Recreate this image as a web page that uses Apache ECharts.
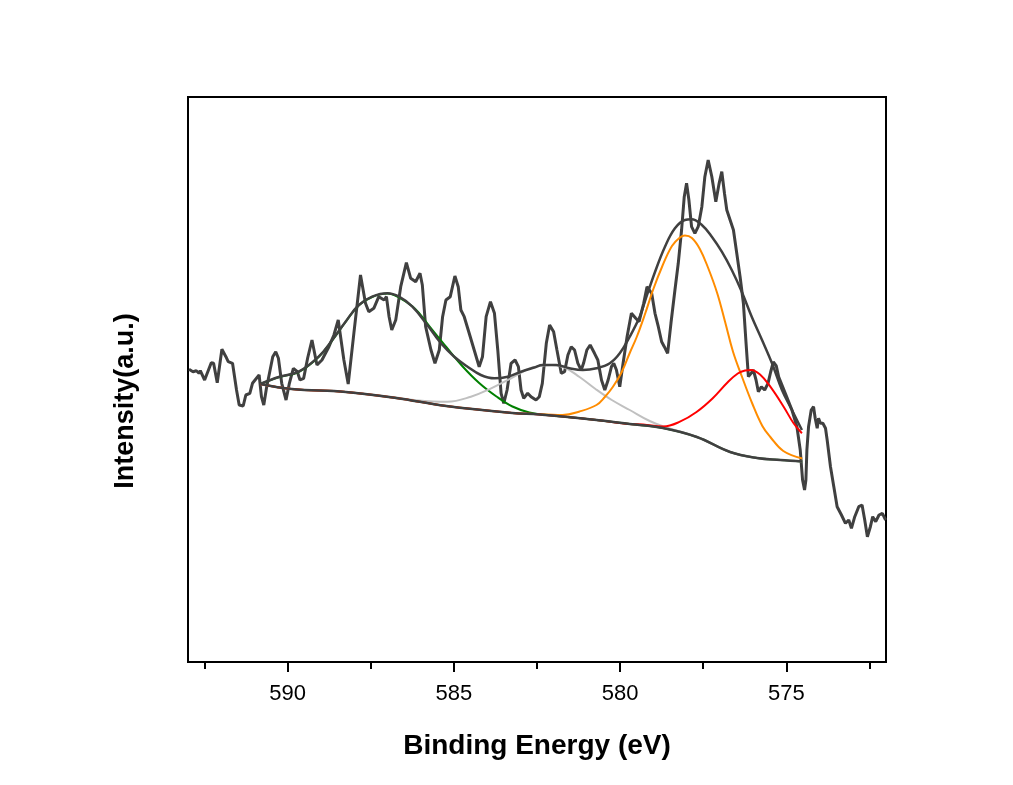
<!DOCTYPE html>
<html>
<head>
<meta charset="utf-8">
<script src="https://cdn.jsdelivr.net/npm/echarts@6/dist/echarts.min.js"></script>
<style>
  html, body { margin: 0; padding: 0; background: #fff; }
  #xps { width: 1013px; height: 785px; }
</style>
</head>
<body>
<div id="xps"></div>
<script>
// binding energy (eV) and intensity (a.u.)
var rawE = [592.97,592.85,592.75,592.67,592.63,592.50,592.30,592.23,592.12,591.98,
  591.86,591.79,591.66,591.54,591.46,591.34,591.26,591.14,591.06,590.94,
  590.86,590.79,590.72,590.64,590.54,590.45,590.36,590.28,590.18,590.05,
  589.95,589.83,589.71,589.63,589.52,589.40,589.27,589.12,588.97,588.76,
  588.61,588.48,588.31,588.18,588.01,587.81,587.66,587.56,587.41,587.26,
  587.10,587.03,586.95,586.87,586.75,586.60,586.43,586.30,586.15,586.02,
  585.95,585.85,585.69,585.57,585.44,585.34,585.24,585.11,584.97,584.87,
  584.79,584.69,584.54,584.39,584.24,584.14,584.03,583.90,583.78,583.68,
  583.58,583.50,583.40,583.28,583.16,583.06,582.98,582.90,582.78,582.68,
  582.53,582.43,582.34,582.22,582.12,582.00,581.90,581.77,581.67,581.57,
  581.47,581.37,581.27,581.17,581.10,581.00,580.90,580.77,580.67,580.56,
  580.46,580.36,580.26,580.19,580.11,580.01,579.91,579.79,579.66,579.53,
  579.43,579.29,579.19,579.05,578.95,578.85,578.75,578.67,578.57,578.47,
  578.35,578.25,578.15,578.07,578.00,577.93,577.85,577.75,577.65,577.54,
  577.45,577.35,577.24,577.12,577.02,576.94,576.86,576.79,576.69,576.59,
  576.49,576.39,576.29,576.21,576.14,576.06,575.99,575.91,575.84,575.75,
  575.65,575.55,575.47,575.39,575.30,575.23,575.03,574.83,574.68,574.58,
  574.51,574.45,574.41,574.38,574.33,574.25,574.18,574.13,574.07,574.03,
  573.97,573.90,573.82,573.77,573.67,573.57,573.47,573.34,573.22,573.12,
  573.04,572.94,572.82,572.72,572.64,572.56,572.47,572.40,572.31,572.21,572.11,572.01];
var rawI = [292.7,290.3,291.3,288.7,291.3,282,299.3,298.7,279.3,312.7,
  305.3,300.3,298.7,272,257,256,267,268.7,278.7,283.7,
  287,265.3,257,273.7,290.3,305.3,310.3,303.7,278.7,262,
  278.7,293.7,290.3,282,283.7,304,322,297,302,315.3,
  327,342,302,278,328.7,387,358.7,350.3,353.7,365.3,
  362,365.3,345.3,332,342,375.3,399.3,383.7,380.3,388.7,
  377,335.3,312,298.7,312,345.3,362,365.3,386,375.3,
  352,345.3,328.7,312,295.3,305.3,345.3,360.3,348.7,312,
  268.7,258.7,272,298.7,302,295.3,272,263.7,268.7,265.3,
  262,265.3,278.7,318.7,337,330.3,312,288.7,290.3,307,
  315.3,312,298.7,292,298.7,312,317,308.7,302,282,
  272,282,295.3,298.7,292,275.3,298.7,325.3,348.7,343.7,
  340.3,358.7,375.3,368.7,348.7,335.3,320.3,315.3,308.7,338.7,
  372,398.7,432,465.3,478.7,462,435.3,428.7,435.3,455.3,
  485.3,502,485.3,460.3,478.7,490.3,468.7,452,442,432,
  408.7,385.3,358.7,318.7,285.3,288.7,292,282,270.3,275.3,
  272,278.7,290,300,296,285.3,268.7,252,235.3,212,
  182,172,182,212,235.3,252,255.3,243.7,233.7,243.7,
  238.7,238.7,233.7,222,195.3,175.3,155.3,147,138.7,142,
  133.7,145.3,155.3,157,142,125.3,135.3,145.3,140.3,147,148.7,142];

// cumulative fit
var envE = [590.82,590.27,589.67,589.07,588.66,588.26,587.86,587.46,587.00,586.65,
  586.25,585.80,585.39,584.99,584.59,584.19,583.78,583.38,582.98,582.58,
  582.33,581.92,581.52,581.12,580.71,580.31,580.01,579.71,579.41,579.26,
  578.95,578.65,578.35,578.05,577.85,577.54,577.24,576.94,576.64,576.34,
  576.04,575.73,575.43,575.13,574.83,574.53];
var envI = [278,285,290.3,305.3,322,340.3,357,365.3,368.7,365.3,
  355.3,337,318.7,305.3,295.3,287,283.7,285.3,290.3,294.5,
  297,297,293.7,292,293.7,298.7,308.7,325.3,345.3,360,
  390,415.3,433.7,442,442.7,437,425.3,410.3,392,370.3,
  345.3,322,298.7,272,252,232];

// background
var baseE = [590.82,589.88,588.25,586.74,585.23,583.24,582.43,580.71,579.71,578.71,577.69,576.69,575.88,575.18,574.52];
var baseI = [278,273,270,264,256,249,247.5,242,238,234,225,210,204,202,200.5];

// fitted components (where a component lies on the background it takes the background's readings)
var greenE = [590.82,590.27,589.67,589.07,588.66,588.26,587.86,587.46,587.00,586.65,
  586.26,586.05,585.65,585.23,584.75,584.24,583.72,583.24,582.73,582.27,
  581.52,580.71,579.71,578.71,577.69,576.69,575.88,575.18,574.52];
var greenI = [278,284.8,290,305,321.7,340,356.7,365,368.4,364.5,
  356,349,332,315,296,279,265.5,255.5,249.5,247.2,
  244.8,242,238,234,225,210,204,202,200.5];

var grayE = [590.82,589.88,588.25,586.74,586.20,585.20,584.49,583.88,583.28,582.73,
  582.43,582.06,581.67,581.22,580.74,580.25,579.71,579.11,578.65,577.69,
  576.69,575.88,575.18,574.52];
var grayI = [278,273,270,264.5,262,260.3,265.3,273.7,283.7,293.5,
  296,297,294.5,285,273,262,252,241,235,225,
  210,204,202,200.5];

var orangeE = [590.82,589.88,588.25,586.74,585.23,583.24,582.73,581.73,581.22,580.71,
  580.46,580.22,579.95,579.71,579.50,579.26,579.01,578.74,578.44,578.20,
  578.05,577.84,577.60,577.35,577.08,576.84,576.60,576.33,576.03,575.72,
  575.48,575.09,574.52];
var orangeI = [278,273,270,264,256,249,248.2,247,250.5,257,
  265,275,290,309,325,347,372,395,416,424.5,
  426.5,424,413,394,369,340,310,285,259,236,
  225,211,203.5];

var redE = [590.82,589.88,588.25,586.74,585.23,583.24,582.43,580.71,579.71,579.31,
  578.70,578.20,577.70,577.22,576.77,576.46,576.24,576.06,575.79,575.48,
  575.08,574.78,574.53];
var redI = [278,273,270,264,256,249,247.5,242,238,237.5,
  235.5,240.3,250,263.5,279.5,288.5,291.5,292,287.5,275.3,
  255.3,238.7,228.7];

var majorTicks = [575, 580, 585, 590];
var minorTicks = [572.5, 577.5, 582.5, 587.5, 592.5];

function pairs(xs, ys) {
  return xs.map(function (x, i) { return [x, ys[i]]; });
}

var dom = document.getElementById('xps');
var myChart = echarts.init(dom, null, { renderer: 'canvas' });

var font = 'Liberation Sans, Arial, sans-serif';
var dark = '#404040';

function fitLine(name, data, color, width, z) {
  return {
    name: name,
    type: 'line',
    data: data,
    smooth: 0.4,
    symbol: 'none',
    z: z,
    lineStyle: { color: color, width: width },
    emphasis: { disabled: true }
  };
}

var option = {
  animation: false,
  backgroundColor: '#fff',
  grid: {
    left: 188, right: 127, top: 97, bottom: 123,
    show: true, borderColor: '#000', borderWidth: 2
  },
  xAxis: [
    {
      type: 'value', inverse: true, min: 572, max: 593,
      position: 'bottom',
      name: 'Binding Energy (eV)',
      nameLocation: 'middle',
      nameGap: 70,
      nameTextStyle: { fontFamily: font, fontWeight: 'bold', fontSize: 28, color: '#000' },
      axisLine: { show: true, lineStyle: { color: '#000', width: 2 } },
      axisTick: { show: true, length: 10, customValues: majorTicks, lineStyle: { color: '#000', width: 2 } },
      axisLabel: { customValues: majorTicks, margin: 21, fontFamily: font, fontSize: 22, color: '#000' },
      splitLine: { show: false }
    },
    {
      type: 'value', inverse: true, min: 572, max: 593,
      position: 'bottom',
      axisLine: { show: false },
      axisTick: { show: true, length: 7, customValues: minorTicks, lineStyle: { color: '#000', width: 2 } },
      axisLabel: { show: false },
      splitLine: { show: false }
    }
  ],
  yAxis: {
    type: 'value', min: 0, max: 565,
    axisLine: { show: true, lineStyle: { color: '#000', width: 2 } },
    axisTick: { show: false },
    axisLabel: { show: false },
    splitLine: { show: false }
  },
  graphic: [{
    type: 'text',
    x: 126, y: 401,
    rotation: Math.PI / 2,
    style: {
      text: 'Intensity(a.u.)',
      font: 'bold 27px ' + font,
      fill: '#000',
      align: 'center',
      verticalAlign: 'middle'
    }
  }],
  series: [
    {
      name: 'Raw',
      type: 'line',
      data: pairs(rawE, rawI),
      symbol: 'none',
      z: 2,
      lineStyle: { color: dark, width: 3 },
      emphasis: { disabled: true }
    },
    fitLine('Peak 1', pairs(greenE, greenI), '#008000', 2, 3),
    fitLine('Peak 2', pairs(grayE, grayI), '#c0c0c0', 2, 3),
    fitLine('Peak 3', pairs(orangeE, orangeI), '#ff8c00', 2, 3),
    fitLine('Peak 4', pairs(redE, redI), '#ff0000', 2, 3),
    fitLine('Background', pairs(baseE, baseI), dark, 2.5, 4),
    fitLine('Envelope', pairs(envE, envI), dark, 2.5, 4)
  ]
};

if (option && typeof option === 'object') {
  myChart.setOption(option);
}

window.addEventListener('resize', myChart.resize);
</script>
</body>
</html>
